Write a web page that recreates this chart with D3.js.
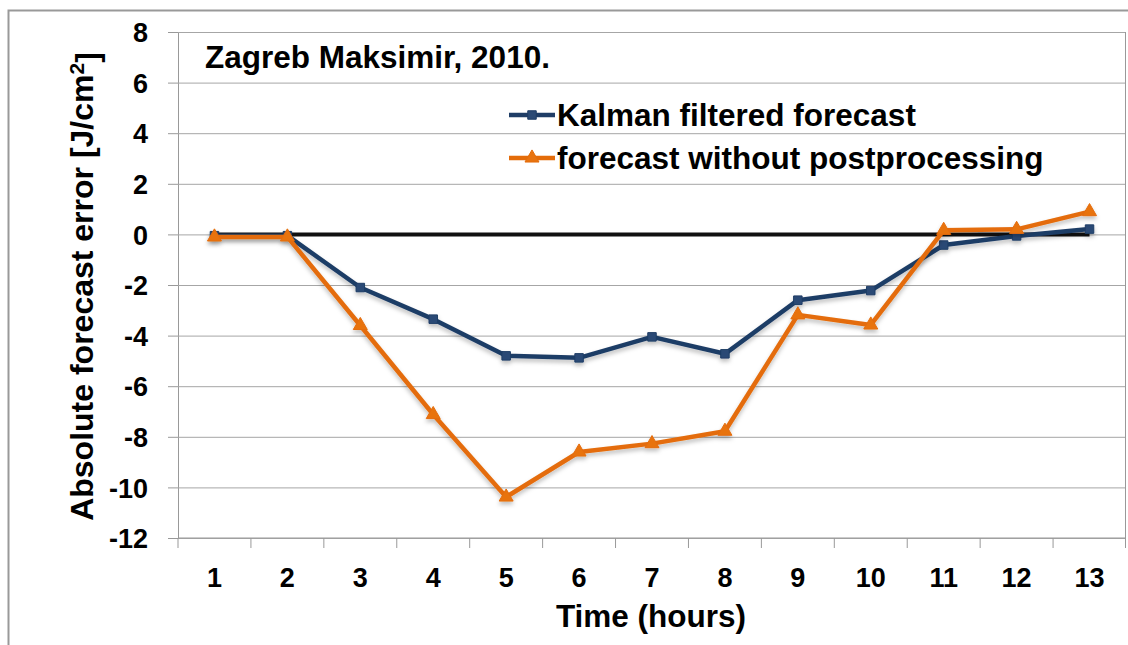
<!DOCTYPE html>
<html>
<head>
<meta charset="utf-8">
<script src="https://cdn.jsdelivr.net/npm/d3@7"></script>
<style>
  html, body { margin: 0; padding: 0; background: #fff; }
  svg text { font-family: "Liberation Sans", Arial, sans-serif; font-weight: bold; fill: #000; }
</style>
</head>
<body>
<div id="svg-canvas"></div>
<script>
'use strict';

const hours = [1, 2, 3, 4, 5, 6, 7, 8, 9, 10, 11, 12, 13];
const kalman = [-0.05, -0.05, -2.1, -3.35, -4.8, -4.88, -4.05, -4.72, -2.6, -2.22, -0.42, -0.06, 0.21];
const rawForecast = [-0.1, -0.1, -3.6, -7.12, -10.38, -8.6, -8.27, -7.78, -3.18, -3.58, 0.16, 0.2, 0.9];
const zeroLine = hours.map(() => 0);
const yTicks = [-12, -10, -8, -6, -4, -2, 0, 2, 4, 6, 8];
const seriesNames = ["Kalman filtered forecast", "forecast without postprocessing"];

const width = 1128;
const height = 645;
const plot = { left: 178, top: 32, right: 1126, bottom: 538 };
const blue = "#1f3d66";
const orange = "#e46c0a";

const svg = d3.select("#svg-canvas")
    .append("svg")
    .attr("width", width)
    .attr("height", height);

const defs = svg.append("defs");
const shadow = defs.append("filter").attr("id", "shadow")
    .attr("x", "-20%").attr("y", "-20%").attr("width", "140%").attr("height", "160%");
shadow.append("feDropShadow")
    .attr("dx", 0).attr("dy", 3).attr("stdDeviation", 2)
    .attr("flood-color", "#000").attr("flood-opacity", 0.25);

// outer chart frame
svg.append("rect")
    .attr("x", 8.5).attr("y", 10.5)
    .attr("width", width + 10).attr("height", height + 10)
    .attr("fill", "none").attr("stroke", "#999").attr("stroke-width", 2);

const x = d3.scaleBand().domain(hours).range([plot.left, plot.right]);
const y = d3.scaleLinear().domain([-12, 8]).range([plot.bottom, plot.top]);
const cx = d => x(d) + x.bandwidth() / 2;

// gridlines + y axis
const yAxis = svg.append("g")
    .attr("transform", `translate(${plot.left},0)`)
    .call(d3.axisLeft(y).tickValues(yTicks).tickSize(10).tickFormat(d => String(d)));
yAxis.select(".domain").attr("stroke", "#999");
yAxis.selectAll(".tick line").attr("stroke", "#999");
yAxis.selectAll(".tick text")
    .attr("x", -30).attr("dy", "0.36em")
    .style("font-size", "27px");
yAxis.selectAll(".tick")
    .append("line")
    .attr("x1", 0).attr("x2", plot.right - plot.left)
    .attr("stroke", "#a6a6a6").attr("stroke-width", 1);

// right edge of plot area
svg.append("line")
    .attr("x1", plot.right - 0.5).attr("x2", plot.right - 0.5)
    .attr("y1", plot.top).attr("y2", plot.bottom + 10)
    .attr("stroke", "#999");

// x axis with ticks at band boundaries
const xAxis = svg.append("g")
    .attr("transform", `translate(0,${plot.bottom})`);
xAxis.append("line")
    .attr("x1", plot.left).attr("x2", plot.right)
    .attr("stroke", "#999");
xAxis.selectAll("line.tick")
    .data(hours)
    .join("line")
    .attr("class", "tick")
    .attr("x1", d => x(d)).attr("x2", d => x(d))
    .attr("y1", 0).attr("y2", 10)
    .attr("stroke", "#999");
xAxis.selectAll("text")
    .data(hours)
    .join("text")
    .attr("x", d => cx(d))
    .attr("y", 49)
    .attr("text-anchor", "middle")
    .style("font-size", "27px")
    .text(d => d);

// axis titles
svg.append("text")
    .attr("transform", `translate(93,${(53 + 520) / 2}) rotate(-90)`)
    .attr("text-anchor", "middle")
    .style("font-size", "32px")
    .call(t => {
        t.append("tspan").text("Absolute forecast error [J/cm");
        t.append("tspan").attr("dy", "-0.45em").style("font-size", "21px").text("2");
        t.append("tspan").attr("dy", "0.45em").text("]");
    });

svg.append("text")
    .attr("x", 651).attr("y", 627)
    .attr("text-anchor", "middle")
    .style("font-size", "31.5px")
    .text("Time (hours)");

svg.append("text")
    .attr("x", 205).attr("y", 68)
    .style("font-size", "31.5px")
    .text("Zagreb Maksimir, 2010.");

// series
const line = d3.line().x((d, i) => cx(hours[i])).y(d => y(d));

svg.append("path")
    .datum(zeroLine)
    .attr("fill", "none").attr("stroke", "#111").attr("stroke-width", 4)
    .attr("d", line);

const triangle = d3.symbol().type(d3.symbolTriangle).size(85);
const square = d3.symbol().type(d3.symbolSquare).size(72);

function drawSeries(values, color, symbol, markerFill) {
    const g = svg.append("g").attr("filter", "url(#shadow)");
    g.append("path")
        .datum(values)
        .attr("fill", "none").attr("stroke", color).attr("stroke-width", 4.5)
        .attr("stroke-linejoin", "round")
        .attr("d", line);
    g.selectAll("path.marker")
        .data(values)
        .join("path")
        .attr("class", "marker")
        .attr("transform", (d, i) => `translate(${cx(hours[i])},${y(d)})`)
        .attr("d", symbol)
        .attr("fill", markerFill)
        .attr("stroke", color)
        .attr("stroke-width", 1);
}

drawSeries(kalman, blue, square, "#2b4a75");
drawSeries(rawForecast, orange, triangle, "#e8730f");

// legend
const legend = svg.append("g");
const legendRows = [
    { name: seriesNames[0], color: blue, symbol: square, fill: "#2b4a75", ly: 115, ty: 126 },
    { name: seriesNames[1], color: orange, symbol: triangle, fill: "#e8730f", ly: 158, ty: 169 }
];
legendRows.forEach(r => {
    legend.append("line")
        .attr("x1", 509).attr("x2", 555)
        .attr("y1", r.ly).attr("y2", r.ly)
        .attr("stroke", r.color).attr("stroke-width", 4.5);
    legend.append("path")
        .attr("transform", `translate(532,${r.ly})`)
        .attr("d", r.symbol)
        .attr("fill", r.fill).attr("stroke", r.color);
    legend.append("text")
        .attr("x", 557).attr("y", r.ty)
        .style("font-size", "31.5px")
        .text(r.name);
});
</script>
</body>
</html>
